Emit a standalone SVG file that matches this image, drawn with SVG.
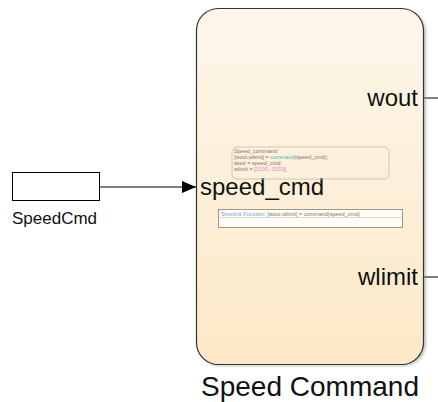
<svg xmlns="http://www.w3.org/2000/svg" width="438" height="402" viewBox="0 0 438 402">
<defs>
<linearGradient id="bg" x1="0" y1="0" x2="0" y2="1">
<stop offset="0" stop-color="#fdf7ec"/>
<stop offset="1" stop-color="#fde8c6"/>
</linearGradient>
<marker id="arr" markerWidth="14" markerHeight="12" refX="14" refY="6" orient="auto" markerUnits="userSpaceOnUse">
<path d="M0,0 L14,6 L0,12 Z" fill="#000"/>
</marker>
<filter id="sh" x="-5%" y="-5%" width="115%" height="115%">
<feGaussianBlur stdDeviation="1.5"/>
</filter>
</defs>
<style>
text{font-family:"Liberation Sans",Arial,sans-serif;fill:#111}
.port{font-size:24px}
.tiny{font-size:5.5px;fill:#777}
.wire{stroke:#000;stroke-width:1;fill:none}
</style>
<g id="connectors">
<line class="wire" x1="100" y1="187" x2="196" y2="187" marker-end="url(#arr)"/>
<line class="wire" x1="424" y1="98" x2="438" y2="98"/>
<line class="wire" x1="424" y1="277" x2="438" y2="277"/>
</g>
<g id="SpeedCmd">
<rect x="12.5" y="172.5" width="87" height="28" fill="#fff" stroke="#000" stroke-width="1"/>
<text x="12" y="224" font-size="17">SpeedCmd</text>
</g>
<g id="SpeedCommand">
<rect x="198" y="10" width="228" height="356" rx="22" fill="#888" opacity="0.5" filter="url(#sh)"/>
<rect x="196.5" y="8.5" width="227" height="356" rx="22" fill="url(#bg)" stroke="#333" stroke-width="1.2"/>
<text class="port" x="418" y="106" text-anchor="end">wout</text>
<text class="port" x="418" y="285" text-anchor="end">wlimit</text>
<text class="port" x="200" y="195">speed_cmd</text>
<rect x="232" y="147" width="157" height="32" rx="5" fill="none" stroke="#c8bca8" stroke-width="0.8"/>
<text class="tiny" x="234" y="153">Speed_command</text>
<text class="tiny" x="234" y="159">[wout,wlimit] = <tspan fill="#4fb5a5">command</tspan>(speed_cmd);</text>
<text class="tiny" x="234" y="165">wout = speed_cmd;</text>
<text class="tiny" x="234" y="171">wlimit = [<tspan fill="#e58fc0">1500</tspan>,-<tspan fill="#e58fc0">1500</tspan>];</text>
<rect x="218.5" y="209.5" width="184" height="18" fill="#fffdf8" stroke="#8a8070" stroke-width="0.8"/>
<line x1="218.5" y1="217.5" x2="402.5" y2="217.5" stroke="#c8c0b0" stroke-width="0.6"/>
<text class="tiny" x="221" y="215.5"><tspan fill="#7f9fcf">Simulink Function:</tspan> [wout,wlimit] = command(speed_cmd)</text>
<text x="310" y="396" font-size="28" text-anchor="middle">Speed Command</text>
</g>
</svg>
